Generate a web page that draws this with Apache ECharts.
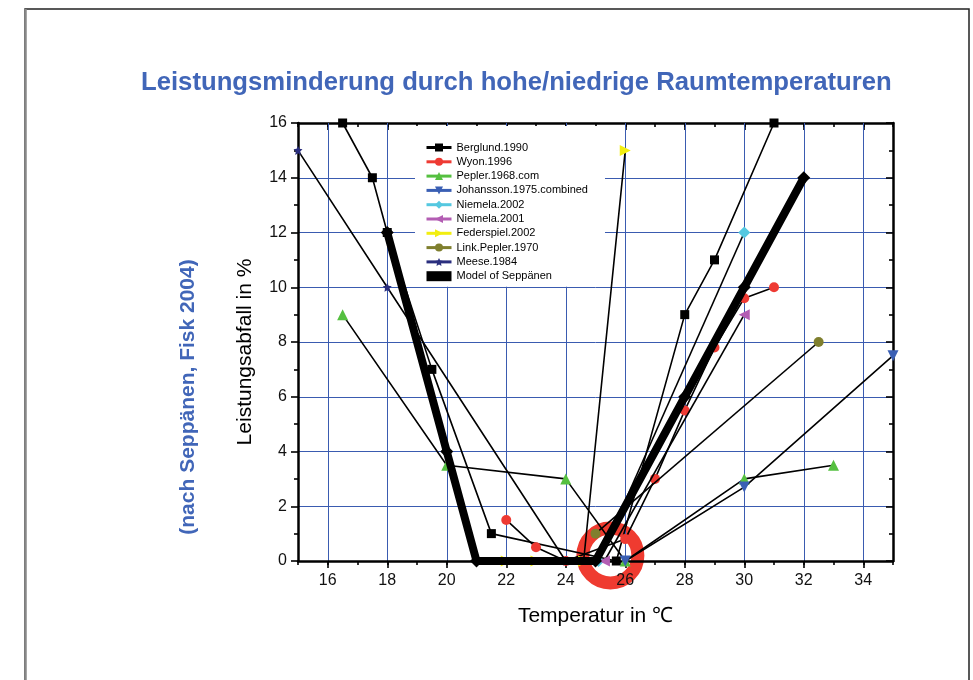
<!DOCTYPE html>
<html>
<head>
<meta charset="utf-8">
<script src="https://cdn.jsdelivr.net/npm/echarts@6/dist/echarts.min.js"></script>
<style>html,body{margin:0;padding:0;background:#fff}#c{width:973px;height:680px}</style>
</head>
<body>
<div id="c"></div>
<script>
// ---- data ----
const xMajorTicks = [16, 18, 20, 22, 24, 26, 28, 30, 32, 34];
const seriesNames = ['Berglund.1990', 'Wyon.1996', 'Pepler.1968.com', 'Johansson.1975.combined',
  'Niemela.2002', 'Niemela.2001', 'Federspiel.2002', 'Link.Pepler.1970', 'Meese.1984', 'Model of Seppänen'];
const berglund = [[16.5, 16], [17.5, 14], [18, 12], [19.5, 7], [21.5, 1], [25.7, 0], [28, 9], [29, 11], [31, 16]];
const wyon = [[22, 1.5], [23, 0.5], [24, 0], [26, 0.8], [27, 3], [28, 5.5], [29, 7.8], [30, 9.6], [31, 10]];
const pepler = [[16.5, 9], [20, 3.5], [24, 3], [26, 0], [30, 3], [33, 3.5]];
const johansson = [[26, 0], [30, 2.7], [35, 7.5]];
const niemela2002 = [[25.1, 0], [30, 12]];
const niemela2001 = [[25.3, 0], [30, 9]];
const federspiel = [[22, 0], [23, 0], [24.6, 0], [26, 15]];
const linkPepler = [[25, 1], [32.5, 8]];
const meese = [[15, 15], [18, 10], [24, 0]];
const seppanen = [[18, 12], [20, 4], [21, 0], [25, 0], [28, 6], [30, 10], [32, 14]];
const highlight = [[25.5, 0.2]];

// ---- styles ----
const FONT = 'Liberation Sans';
const GRIDBLUE = '#3a5bb0';
const STAR = 'path://M0,-10 L2.9,-4 9.5,-3.1 4.7,1.5 5.9,8.1 0,5 -5.9,8.1 -4.7,1.5 -9.5,-3.1 -2.9,-4 Z';
const styles = [
  { color: '#000000', symbol: 'rect', size: 9, rot: 0 },
  { color: '#ee3a33', symbol: 'circle', size: 10, rot: 0 },
  { color: '#55c040', symbol: 'triangle', size: 11, rot: 0 },
  { color: '#3a5fb4', symbol: 'triangle', size: 11, rot: 180 },
  { color: '#55c8e0', symbol: 'diamond', size: 12, rot: 0 },
  { color: '#b35db3', symbol: 'triangle', size: 11, rot: 90 },
  { color: '#f2ee10', symbol: 'triangle', size: 11, rot: -90 },
  { color: '#7f7f2e', symbol: 'circle', size: 10, rot: 0 },
  { color: '#2a2e7e', symbol: STAR, size: 9, rot: 0 }
];
const datasets = [berglund, wyon, pepler, johansson, niemela2002, niemela2001, federspiel, linkPepler, meese];

const series = [{
  name: 'ring', type: 'scatter', data: highlight, symbol: 'circle', symbolSize: 55, clip: false, z: 1,
  itemStyle: { color: 'rgba(0,0,0,0)', borderColor: '#ef3b30', borderWidth: 13, opacity: 1 }, silent: true
}];
datasets.forEach((d, i) => {
  const s = styles[i];
  series.push({
    name: seriesNames[i], type: 'line', data: d, z: 3 + i,
    symbol: s.symbol, symbolSize: s.size, symbolRotate: s.rot, showSymbol: true,
    lineStyle: { color: '#000', width: 1.6 },
    itemStyle: { color: s.color, borderWidth: 0 }
  });
});
series.push({
  name: seriesNames[9], type: 'line', data: seppanen, z: 20,
  symbol: 'diamond', symbolSize: 13,
  lineStyle: { color: '#000', width: 8, cap: 'round', join: 'round' },
  itemStyle: { color: '#000' }
});

const legendData = seriesNames.map((n, i) => {
  if (i === 9) return { name: n, icon: 'rect', itemStyle: { color: '#000' } };
  return { name: n, lineStyle: { color: styles[i].color, width: 3 }, itemStyle: { color: styles[i].color } };
});

const axisLbl = { fontFamily: FONT, fontSize: 16, color: '#111' };
const chart = echarts.init(document.getElementById('c'));
chart.setOption({
  animation: false,
  backgroundColor: '#fff',
  title: {
    text: 'Leistungsminderung durch hohe/niedrige Raumtemperaturen',
    left: 136, top: 65,
    textStyle: { fontFamily: FONT, fontSize: 25.7, fontWeight: 'bold', color: '#4166b8' }
  },
  graphic: [
    { type: 'rect', shape: { x: 25, y: 9, width: 944, height: 700 }, style: { fill: 'none', stroke: '#222', lineWidth: 1.5 }, silent: true },
    { type: 'line', shape: { x1: 25.5, y1: 9, x2: 25.5, y2: 680 }, style: { stroke: '#888', lineWidth: 2.5 }, silent: true },
    {
      type: 'text', x: 188, y: 397, rotation: Math.PI / 2,
      style: { text: '(nach Seppänen, Fisk 2004)', font: 'bold 21px "Liberation Sans"', fill: '#4166b8', align: 'center', verticalAlign: 'middle' }
    }
  ],
  legend: {
    orient: 'vertical', left: 415, top: 126, data: legendData,
    backgroundColor: '#fff', padding: [16, 17, 5, 10],
    itemWidth: 25, itemHeight: 10, itemGap: 3.3,
    textStyle: { fontFamily: FONT, fontSize: 11, color: '#000' }
  },
  grid: { left: 298, right: 80, top: 123, bottom: 119 },
  xAxis: [
    {
      type: 'value', min: 15, max: 35, position: 'bottom', z: 2,
      name: 'Temperatur in ℃', nameLocation: 'middle', nameGap: 45,
      nameTextStyle: { fontFamily: FONT, fontSize: 21, color: '#000' },
      axisLine: { show: true, lineStyle: { color: '#000', width: 2.5 } },
      axisTick: { show: true, customValues: xMajorTicks, length: 7, lineStyle: { color: '#000', width: 1.6 } },
      axisLabel: { customValues: xMajorTicks, margin: 12, ...axisLbl },
      splitLine: { show: true, lineStyle: { color: GRIDBLUE, width: 1 } }
    },
    {
      type: 'value', min: 15, max: 35, interval: 1, position: 'bottom', z: 2,
      axisLine: { show: false }, axisTick: { show: true, length: 4, lineStyle: { color: '#000', width: 1.6 } },
      axisLabel: { show: false }, splitLine: { show: false }
    },
    {
      type: 'value', min: 15, max: 35, position: 'top',
      axisLine: { show: true, lineStyle: { color: '#000', width: 2.5 } },
      axisTick: { show: true, inside: true, customValues: xMajorTicks, length: 7, lineStyle: { color: '#000', width: 1.6 } },
      axisLabel: { show: false }, splitLine: { show: false }
    },
    {
      type: 'value', min: 15, max: 35, interval: 1, position: 'top',
      axisLine: { show: false }, axisTick: { show: true, inside: true, length: 4, lineStyle: { color: '#000', width: 1.6 } },
      axisLabel: { show: false }, splitLine: { show: false }
    }
  ],
  yAxis: [
    {
      type: 'value', min: 0, max: 16, interval: 2, position: 'left',
      name: 'Leistungsabfall in %', nameLocation: 'middle', nameGap: 42,
      nameTextStyle: { fontFamily: FONT, fontSize: 21, color: '#000', padding: [0, 20, 0, 0] },
      axisLine: { show: true, lineStyle: { color: '#000', width: 2.5 } },
      axisTick: { show: true, length: 7, lineStyle: { color: '#000', width: 1.6 } },
      minorTick: { show: true, splitNumber: 2, length: 4, lineStyle: { color: '#000', width: 1.6 } },
      axisLabel: { margin: 11, ...axisLbl },
      splitLine: { show: true, lineStyle: { color: GRIDBLUE, width: 1 } }
    },
    {
      type: 'value', min: 0, max: 16, interval: 2, position: 'right',
      axisLine: { show: true, lineStyle: { color: '#000', width: 2.5 } },
      axisTick: { show: true, inside: true, length: 7, lineStyle: { color: '#000', width: 1.6 } },
      minorTick: { show: true, splitNumber: 2, length: 4, lineStyle: { color: '#000', width: 1.6 } },
      axisLabel: { show: false }, splitLine: { show: false }
    }
  ],
  series: series
});
</script>
</body>
</html>
